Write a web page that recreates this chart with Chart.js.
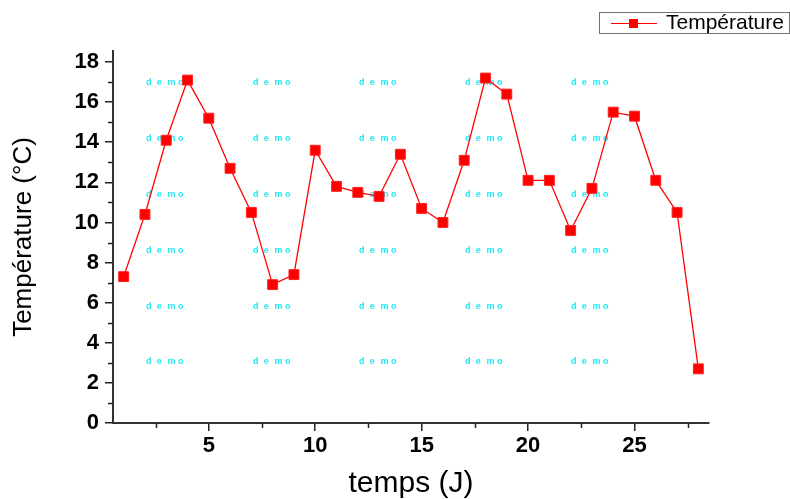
<!DOCTYPE html>
<html>
<head>
<meta charset="utf-8">
<script src="https://cdn.jsdelivr.net/npm/chart.js@4.4.0/dist/chart.umd.min.js"></script>
<style>
  html, body { margin: 0; padding: 0; background: #fff; }
  #wrap { position: relative; width: 790px; height: 499px; }
  #legend {
    position: absolute; left: 599px; top: 12px; width: 189px; height: 20px;
    border: 1px solid #707070; background: #fff;
    font-family: "Liberation Sans", Arial, sans-serif; font-size: 21px; color: #000;
  }
  #legend .ln { position: absolute; left: 11px; top: 10px; width: 46px; height: 1px; background: #ff0000; }
  #legend .sq { position: absolute; left: 29px; top: 6px; width: 9px; height: 9px; background: #ff0000; }
  #legend .tx { position: absolute; left: 66px; top: -2px; line-height: 22px; white-space: nowrap; }
</style>
</head>
<body>
<div id="wrap">
  <canvas id="chart" width="790" height="499"></canvas>
  <div id="legend"><div class="ln"></div><div class="sq"></div><div class="tx">Température</div></div>
</div>
<script>
const days = [1, 2, 3, 4, 5, 6, 7, 8, 9, 10, 11, 12, 13, 14, 15, 16, 17, 18, 19, 20, 21, 22, 23, 24, 25, 26, 27, 28];
const temperatures = [7.3, 10.4, 14.1, 17.1, 15.2, 12.7, 10.5, 6.9, 7.4, 13.6, 11.8, 11.5, 11.3, 13.4,
                      10.7, 10.0, 13.1, 17.2, 16.4, 12.1, 12.1, 9.6, 11.7, 15.5, 15.3, 12.1, 10.5, 2.7];
const xTicks = [5, 10, 15, 20, 25];
const yTicks = [0, 2, 4, 6, 8, 10, 12, 14, 16, 18];
const xMinor = [2.5, 7.5, 12.5, 17.5, 22.5, 27.5];
const yMinor = [1, 3, 5, 7, 9, 11, 13, 15, 17];

const FONT = '"Liberation Sans", Arial, sans-serif';

// petites graduations
const minorTicks = {
  id: 'minorTicks',
  afterDraw(chart) {
    const ctx = chart.ctx;
    const x = chart.scales.x, y = chart.scales.y;
    ctx.save();
    ctx.strokeStyle = '#222';
    ctx.lineWidth = 1.5;
    ctx.beginPath();
    xMinor.forEach(v => {
      const px = Math.round(x.getPixelForValue(v)) + 0.5;
      ctx.moveTo(px, x.top);
      ctx.lineTo(px, x.top + 5);
    });
    yMinor.forEach(v => {
      const py = Math.round(y.getPixelForValue(v)) + 0.5;
      ctx.moveTo(y.right - 5, py);
      ctx.lineTo(y.right, py);
    });
    ctx.stroke();
    ctx.restore();
  }
};

// filigrane "demo"
const watermark = {
  id: 'watermark',
  beforeDatasetsDraw(chart) {
    const ctx = chart.ctx;
    const cols = [146, 253, 359, 465, 571];
    const rows = [83, 139, 195, 251, 307, 362];
    ctx.save();
    ctx.fillStyle = '#1ee8f4';
    ctx.font = 'bold 9px ' + FONT;
    ctx.textBaseline = 'middle';
    rows.forEach(r => cols.forEach(c => {
      ['d', 'e', 'm', 'o'].forEach((ch, i) => ctx.fillText(ch, c + i * 10.7, r));
    }));
    ctx.restore();
  }
};

new Chart(document.getElementById('chart'), {
  type: 'line',
  data: {
    datasets: [{
      label: 'Température',
      data: days.map((d, i) => ({ x: d, y: temperatures[i] })),
      borderColor: '#ff0000',
      borderWidth: 1.3,
      pointStyle: 'rect',
      pointRadius: 7,
      pointBackgroundColor: '#ff0000',
      pointBorderColor: '#ff2020',
      pointBorderWidth: 1,
      tension: 0
    }]
  },
  options: {
    responsive: false,
    animation: false,
    devicePixelRatio: 1,
    layout: { padding: { top: 51, right: 81, left: 0, bottom: 0 } },
    plugins: { legend: { display: false }, tooltip: { enabled: false } },
    scales: {
      x: {
        type: 'linear',
        min: 0.5,
        max: 28.5,
        afterBuildTicks: s => { s.ticks = xTicks.map(v => ({ value: v })); },
        afterFit: s => { s.height = 76; },
        grid: { drawOnChartArea: false, tickLength: 8, color: '#222', lineWidth: 1.5 },
        border: { color: '#333', width: 2 },
        ticks: { color: '#000', padding: 2, maxRotation: 0, font: { family: FONT, size: 22, weight: 'bold' } },
        title: { display: true, text: 'temps (J)', color: '#000', padding: { top: 0, bottom: -3 }, font: { family: FONT, size: 30 } }
      },
      y: {
        min: 0,
        max: 18.55,
        afterBuildTicks: s => { s.ticks = yTicks.map(v => ({ value: v })); },
        afterFit: s => { s.width = 113; },
        grid: { drawOnChartArea: false, tickLength: 8, color: '#222', lineWidth: 1.5 },
        border: { color: '#333', width: 2 },
        ticks: { color: '#000', padding: 6, font: { family: FONT, size: 22, weight: 'bold' } },
        title: { display: true, text: 'Température (°C)', color: '#000', padding: { top: 8, bottom: 0 }, font: { family: FONT, size: 26 } }
      }
    }
  },
  plugins: [watermark, minorTicks]
});
</script>
</body>
</html>
